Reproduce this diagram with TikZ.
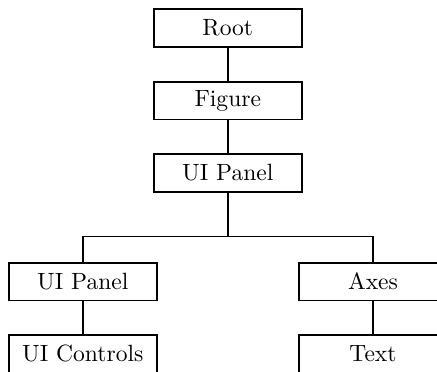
\documentclass[tikz,border=0pt]{standalone}
\begin{document}
\begin{tikzpicture}[x=0.425pt,y=-0.425pt,
  objbox/.style={draw,line width=0.8pt,rectangle,minimum width=62.8pt,minimum height=16.1pt,inner sep=0pt,font=\normalsize},
  link/.style={line width=0.6pt}]
\useasboundingbox (0,0) rectangle (437,371);
\clip (0,0) rectangle (437,371);
\node[objbox] (root) at (227.8,28) {Root};
\node[objbox] (fig) at (227.8,100.5) {Figure};
\node[objbox] (up) at (227.8,173) {UI Panel};
\node[objbox] (lp) at (82.8,281.5) {UI Panel};
\node[objbox] (ax) at (373,281.5) {Axes};
\node[objbox] (uc) at (82.8,353.5) {UI Controls};
\node[objbox] (tx) at (373,353.5) {Text};
\coordinate (bus) at (227.8,236.7);
\draw[link] (root) -- (fig);
\draw[link] (fig) -- (up);
\draw[link] (up) -- (bus);
\draw[link] (lp.north) |- (bus) -| (ax.north);
\draw[link] (lp) -- (uc);
\draw[link] (ax) -- (tx);
\end{tikzpicture}
\end{document}
